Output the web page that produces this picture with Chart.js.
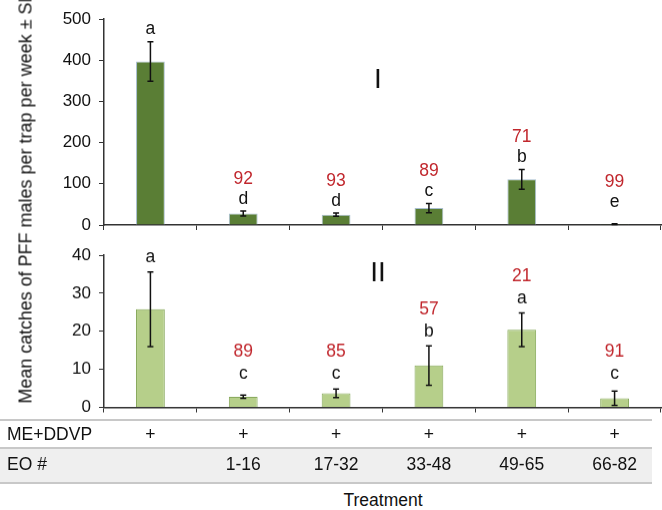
<!DOCTYPE html>
<html>
<head>
<meta charset="utf-8">
<script src="https://cdn.jsdelivr.net/npm/chart.js@4.4.1/dist/chart.umd.min.js"></script>
<style>
  html, body { margin: 0; padding: 0; background: #fff; }
  body { width: 662px; height: 510px; position: relative; overflow: hidden; font-family: "Liberation Sans", Arial, sans-serif; color: #111; }
  .wrap { position: absolute; left: 0; width: 662px; }
  #top { top: 0; height: 244px; }
  #bot { top: 236px; height: 189.5px; }
  #ytitle { position: absolute; left: 26px; top: 197px; transform: translate(-50%, -50%) rotate(-90deg); white-space: nowrap; font-size: 18px; }
  .hline { position: absolute; left: 0; width: 652px; height: 2px; background: #c8c8c8; }
  #row2bg { position: absolute; left: 0; width: 652px; top: 449px; height: 34px; background: #efefef; }
  .cell { position: absolute; font-size: 17.5px; transform: translate(-50%, -50%); white-space: nowrap; }
  .rowhead { position: absolute; left: 7px; font-size: 17.5px; transform: translateY(-50%); }
  #xtitle { position: absolute; left: 383px; top: 500px; transform: translate(-50%, -50%); font-size: 17.5px; }
</style>
</head>
<body>
<div class="wrap" id="top"><canvas id="c1"></canvas></div>
<div class="wrap" id="bot"><canvas id="c2"></canvas></div>
<div id="ytitle">Mean catches of PFF males per trap per week ± SE</div>
<div id="row2bg"></div>
<div class="hline" style="top:419px"></div>
<div class="hline" style="top:447px"></div>
<div class="hline" style="top:482px"></div>
<div class="rowhead" style="top:434px">ME+DDVP</div>
<div class="rowhead" style="top:464px">EO #</div>
<div id="cells"></div>
<div id="xtitle">Treatment</div>
<script>
// treatments
const categories = ['ME+DDVP', 'EO 1-16', 'EO 17-32', 'EO 33-48', 'EO 49-65', 'EO 66-82'];
const meRow = ['+', '+', '+', '+', '+', '+'];
const eoRow = ['', '1-16', '17-32', '33-48', '49-65', '66-82'];

// panel I
const meanI = [397, 28, 25, 41, 111, 2];
const seI = [48, 6, 4, 11, 24, 1];
const lettersI = ['a', 'd', 'd', 'c', 'b', 'e'];
const pctI = ['', '92', '93', '89', '71', '99'];
const ticksI = { max: 500, step: 100 };

// panel II
const meanII = [25.8, 2.8, 3.7, 11, 20.4, 2.4];
const seII = [9.8, 0.45, 1.1, 5.2, 4.4, 1.9];
const lettersII = ['a', 'c', 'c', 'b', 'a', 'c'];
const pctII = ['', '89', '85', '57', '21', '91'];
const ticksII = { max: 40, step: 10 };

const FONT = '"Liberation Sans", Arial, sans-serif';

// error bars + letters + reduction % + roman numeral
const annotate = {
  id: 'annotate',
  afterDatasetsDraw(chart, args, o) {
    const { ctx } = chart;
    const x = chart.scales.x, y = chart.scales.y;
    const base = y.getPixelForValue(0);
    ctx.save();
    o.mean.forEach((m, i) => {
      const cx = x.getPixelForValue(i);
      const hi = y.getPixelForValue(m + o.se[i]);
      const lo = y.getPixelForValue(Math.max(0, m - o.se[i]));
      ctx.strokeStyle = '#111';
      ctx.lineWidth = 1.5;
      ctx.beginPath();
      ctx.moveTo(cx, hi); ctx.lineTo(cx, lo);
      ctx.moveTo(cx - 3, hi); ctx.lineTo(cx + 3, hi);
      ctx.moveTo(cx - 3, lo); ctx.lineTo(cx + 3, lo);
      ctx.stroke();

      const ly = Math.min(hi - o.gap, base - o.minLift);
      ctx.font = '17.5px ' + FONT;
      ctx.textAlign = 'center';
      ctx.textBaseline = 'middle';
      ctx.fillStyle = '#111';
      ctx.fillText(o.letters[i], cx, ly);
      if (o.pct[i]) {
        ctx.fillStyle = '#c1272d';
        ctx.fillText(o.pct[i], cx, ly - o.pctGap);
      }
    });
    ctx.font = '28px ' + FONT;
    ctx.fillStyle = '#111';
    ctx.textAlign = 'center';
    ctx.textBaseline = 'middle';
    ctx.fillText(o.roman, o.romanX, o.romanY);
    ctx.restore();
  }
};

function makeChart(id, mean, se, letters, pct, t, fill, border, extra) {
  return new Chart(document.getElementById(id), {
    type: 'bar',
    data: {
      labels: categories,
      datasets: [{ data: mean, backgroundColor: fill, borderColor: border, borderWidth: 1, barPercentage: 0.31, categoryPercentage: 1 }]
    },
    options: {
      responsive: true,
      maintainAspectRatio: false,
      animation: false,
      layout: { padding: { top: 19, right: 1, left: 0, bottom: 0 } },
      plugins: {
        legend: { display: false },
        tooltip: { enabled: false },
        annotate: Object.assign({ mean, se, letters, pct }, extra)
      },
      scales: {
        x: {
          offset: true,
          grid: { display: true, offset: true, drawOnChartArea: false, drawTicks: true, tickLength: 5, color: '#333', lineWidth: 1 },
          border: { display: true, color: '#333', width: 1.5 },
          ticks: { display: false },
          afterFit(s) { s.height = 19; }
        },
        y: {
          min: 0, max: t.max,
          grid: { drawOnChartArea: false, drawTicks: true, tickLength: 5, color: '#333', lineWidth: 1 },
          border: { display: true, color: '#333', width: 1.5 },
          ticks: { stepSize: t.step, padding: 8, color: '#111', font: { family: FONT, size: 17 } },
          afterFit(s) { s.width = 104; }
        }
      }
    },
    plugins: [annotate]
  });
}

const c1 = makeChart('c1', meanI, seI, lettersI, pctI, ticksI, '#5a7e35', '#a9bfd0',
  { gap: 12, minLift: 23, pctGap: 20, roman: 'I', romanX: 378, romanY: 80 });
const c2 = makeChart('c2', meanII, seII, lettersII, pctII, ticksII, '#b6cf8a', '#86a85a',
  { gap: 14, minLift: 33, pctGap: 22, roman: 'II', romanX: 378, romanY: 37 });

// table cells under each bar, placed by the category scale
const cells = document.getElementById('cells');
categories.forEach((c, i) => {
  const px = c1.scales.x.getPixelForValue(i);
  [[meRow[i], 434], [eoRow[i], 464]].forEach(([txt, top]) => {
    if (!txt) return;
    const d = document.createElement('div');
    d.className = 'cell';
    d.style.left = px + 'px';
    d.style.top = top + 'px';
    d.textContent = txt;
    cells.appendChild(d);
  });
});
</script>
</body>
</html>
